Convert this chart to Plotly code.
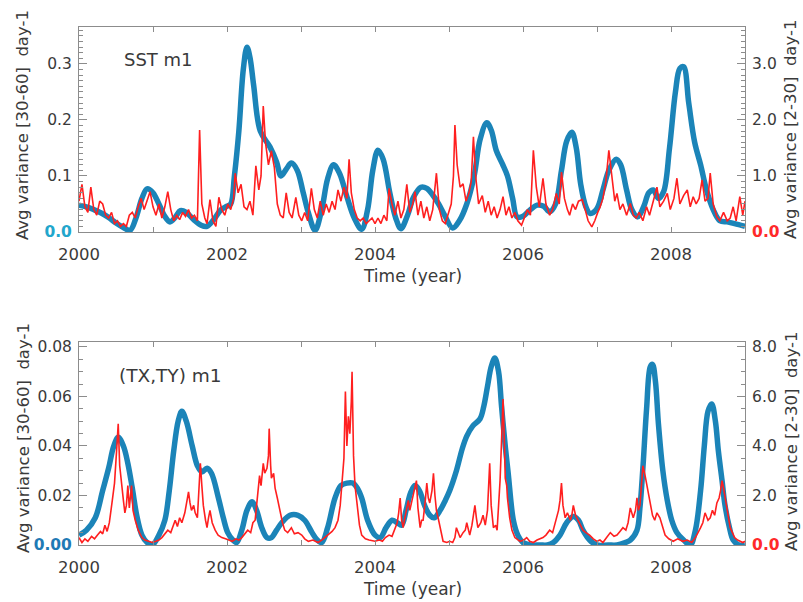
import plotly.graph_objects as go

# ---------------- Top panel: SST m1 ----------------
sst_blue_t = [2000.00, 2000.10, 2000.20, 2000.30, 2000.40, 2000.50, 2000.60, 2000.69, 2000.77, 2000.85,
              2000.92, 2001.00, 2001.08, 2001.16, 2001.23, 2001.30, 2001.37, 2001.45, 2001.55, 2001.65,
              2001.73, 2001.82, 2001.92, 2002.00, 2002.05, 2002.10, 2002.16, 2002.22, 2002.27, 2002.31,
              2002.36, 2002.45, 2002.58, 2002.67, 2002.73, 2002.80, 2002.87, 2002.95, 2003.03, 2003.10,
              2003.19, 2003.28, 2003.36, 2003.44, 2003.52, 2003.62, 2003.72, 2003.82, 2003.90, 2003.97,
              2004.04, 2004.11, 2004.20, 2004.28, 2004.35, 2004.44, 2004.52, 2004.62, 2004.70, 2004.78,
              2004.86, 2004.94, 2005.05, 2005.14, 2005.24, 2005.34, 2005.42, 2005.51, 2005.57, 2005.64,
              2005.72, 2005.79, 2005.86, 2005.92, 2006.00, 2006.10, 2006.19, 2006.28, 2006.36, 2006.44,
              2006.52, 2006.59, 2006.66, 2006.72, 2006.78, 2006.85, 2006.91, 2007.00, 2007.08, 2007.16,
              2007.26, 2007.32, 2007.40, 2007.47, 2007.55, 2007.63, 2007.70, 2007.76, 2007.83, 2007.90,
              2007.98, 2008.06, 2008.12, 2008.17, 2008.24, 2008.32, 2008.40, 2008.48, 2008.57, 2008.66,
              2008.76, 2008.86, 2009.00]
sst_blue_v = [0.048, 0.045, 0.040, 0.034, 0.026, 0.016, 0.008, 0.003, 0.025, 0.060,
              0.077, 0.070, 0.050, 0.028, 0.018, 0.026, 0.038, 0.035, 0.022, 0.012,
              0.010, 0.022, 0.040, 0.046, 0.050, 0.100, 0.180, 0.290, 0.330, 0.312,
              0.262, 0.180, 0.152, 0.125, 0.100, 0.112, 0.123, 0.110, 0.070, 0.034,
              0.003, 0.040, 0.095, 0.120, 0.105, 0.063, 0.025, 0.005, 0.040, 0.110,
              0.146, 0.130, 0.070, 0.025, 0.006, 0.030, 0.062, 0.080, 0.078, 0.066,
              0.050, 0.030, 0.007, 0.020, 0.050, 0.100, 0.165, 0.195, 0.182, 0.145,
              0.122, 0.100, 0.060, 0.027, 0.028, 0.040, 0.048, 0.046, 0.036, 0.050,
              0.110, 0.162, 0.178, 0.150, 0.085, 0.045, 0.033, 0.042, 0.075, 0.110,
              0.130, 0.120, 0.075, 0.040, 0.027, 0.045, 0.070, 0.075, 0.060, 0.072,
              0.150, 0.250, 0.292, 0.295, 0.230, 0.160, 0.120, 0.075, 0.040, 0.020,
              0.018, 0.015, 0.010]

sst_red_t = [2000.00, 2000.04, 2000.08, 2000.12, 2000.16, 2000.20, 2000.24, 2000.28, 2000.32, 2000.36,
             2000.40, 2000.44, 2000.48, 2000.52, 2000.56, 2000.60, 2000.64, 2000.68, 2000.72, 2000.76,
             2000.80, 2000.84, 2000.88, 2000.92, 2000.96, 2001.00, 2001.04, 2001.08, 2001.12, 2001.16,
             2001.20, 2001.24, 2001.28, 2001.32, 2001.36, 2001.40, 2001.44, 2001.48, 2001.52, 2001.56,
             2001.60, 2001.63, 2001.66, 2001.70, 2001.73, 2001.77, 2001.81, 2001.85, 2001.89, 2001.93,
             2001.97, 2002.01, 2002.05, 2002.09, 2002.11, 2002.15, 2002.19, 2002.23, 2002.27, 2002.31,
             2002.35, 2002.39, 2002.43, 2002.46, 2002.49, 2002.52, 2002.56, 2002.60, 2002.64, 2002.68,
             2002.72, 2002.76, 2002.80, 2002.84, 2002.88, 2002.93, 2002.97, 2003.01, 2003.05, 2003.09,
             2003.14, 2003.18, 2003.22, 2003.26, 2003.30, 2003.34, 2003.38, 2003.42, 2003.46, 2003.50,
             2003.54, 2003.58, 2003.62, 2003.65, 2003.68, 2003.72, 2003.76, 2003.80, 2003.84, 2003.88,
             2003.92, 2003.96, 2004.00, 2004.04, 2004.08, 2004.12, 2004.16, 2004.19, 2004.23, 2004.27,
             2004.31, 2004.35, 2004.39, 2004.43, 2004.47, 2004.51, 2004.54, 2004.58, 2004.62, 2004.66,
             2004.70, 2004.74, 2004.78, 2004.83, 2004.87, 2004.91, 2004.95, 2004.99, 2005.03, 2005.06,
             2005.08, 2005.11, 2005.15, 2005.19, 2005.23, 2005.27, 2005.30, 2005.33, 2005.36, 2005.40,
             2005.45, 2005.49, 2005.53, 2005.57, 2005.61, 2005.65, 2005.69, 2005.73, 2005.77, 2005.81,
             2005.85, 2005.89, 2005.93, 2005.98, 2006.02, 2006.06, 2006.10, 2006.14, 2006.18, 2006.22,
             2006.27, 2006.31, 2006.36, 2006.40, 2006.45, 2006.49, 2006.52, 2006.56, 2006.60, 2006.63,
             2006.67, 2006.71, 2006.75, 2006.80, 2006.84, 2006.88, 2006.93, 2006.97, 2007.01, 2007.04,
             2007.08, 2007.12, 2007.16, 2007.20, 2007.24, 2007.27, 2007.31, 2007.35, 2007.40, 2007.45,
             2007.49, 2007.53, 2007.57, 2007.62, 2007.67, 2007.71, 2007.76, 2007.81, 2007.85, 2007.90,
             2007.95, 2007.99, 2008.04, 2008.08, 2008.12, 2008.17, 2008.22, 2008.26, 2008.30, 2008.34,
             2008.38, 2008.42, 2008.46, 2008.50, 2008.53, 2008.57, 2008.62, 2008.66, 2008.71, 2008.76,
             2008.80, 2008.84, 2008.88, 2008.93, 2008.97, 2009.00]
sst_red_v = [0.55, 0.85, 0.45, 0.35, 0.80, 0.40, 0.30, 0.55, 0.50, 0.30,
             0.25, 0.35, 0.15, 0.20, 0.10, 0.15, 0.10, 0.30, 0.35, 0.25,
             0.45, 0.60, 0.40, 0.55, 0.72, 0.45, 0.30, 0.50, 0.25, 0.45,
             0.72, 0.40, 0.20, 0.30, 0.22, 0.35, 0.28, 0.40, 0.25, 0.30,
             0.20, 1.82, 0.50, 0.25, 0.15, 0.58, 0.20, 0.10, 0.62, 0.40,
             0.30, 0.50, 0.40, 0.60, 1.05, 0.70, 0.85, 0.45, 0.40, 0.55,
             0.30, 1.18, 0.75, 1.00, 2.25, 1.60, 1.20, 1.45, 1.15, 0.50,
             0.30, 0.25, 0.70, 0.35, 0.25, 0.62, 0.30, 0.20, 0.35, 0.20,
             0.78, 0.40, 0.25, 0.55, 0.30, 0.50, 0.35, 0.55, 0.40, 0.75,
             0.55, 0.80, 0.60, 1.30, 0.70, 0.40, 0.25, 0.20, 0.25, 0.15,
             0.20, 0.25, 0.15, 0.25, 0.15, 0.30, 0.20, 0.78, 0.50, 0.30,
             0.55, 0.25, 0.40, 0.85, 0.35, 0.50, 0.72, 0.30, 0.55, 0.25,
             0.45, 0.20, 0.40, 1.05, 0.40, 0.20, 0.15, 0.35, 0.50, 1.00,
             1.91, 1.20, 0.80, 0.86, 0.55, 0.70, 0.90, 1.70, 1.00, 0.50,
             0.65, 0.35, 0.55, 0.30, 0.45, 0.25, 0.40, 0.63, 0.30, 0.45,
             0.25, 0.35, 0.20, 0.12, 0.25, 0.40, 0.30, 1.46, 0.80, 0.45,
             0.96, 0.50, 0.30, 0.40, 0.69, 0.50, 1.07, 0.60, 0.40, 0.30,
             0.50, 0.40, 0.55, 0.58, 0.40, 0.20, 0.09, 0.20, 0.35, 0.44,
             0.60, 0.90, 1.46, 1.00, 0.55, 0.69, 0.40, 0.50, 0.30, 0.51,
             0.30, 0.25, 0.35, 0.20, 0.45, 0.30, 0.55, 0.80, 0.45, 0.55,
             0.69, 0.40, 0.60, 0.96, 0.50, 0.65, 0.75, 0.45, 0.63, 0.50,
             0.60, 0.93, 0.55, 0.60, 1.05, 0.50, 0.27, 0.20, 0.35, 0.20,
             0.25, 0.45, 0.20, 0.63, 0.30, 0.55]

# ---------------- Bottom panel: (TX,TY) m1 ----------------
tau_blue_t = [2000.00, 2000.10, 2000.22, 2000.32, 2000.40, 2000.47, 2000.53, 2000.60, 2000.66, 2000.72,
              2000.78, 2000.85, 2000.92, 2000.99, 2001.08, 2001.16, 2001.22, 2001.28, 2001.34, 2001.39,
              2001.45, 2001.53, 2001.60, 2001.66, 2001.73, 2001.79, 2001.88, 2001.95, 2002.01, 2002.08,
              2002.13, 2002.20, 2002.27, 2002.34, 2002.40, 2002.47, 2002.54, 2002.60, 2002.67, 2002.74,
              2002.85, 2002.96, 2003.05, 2003.15, 2003.22, 2003.28, 2003.36, 2003.46, 2003.54, 2003.62,
              2003.70, 2003.76, 2003.82, 2003.90, 2004.00, 2004.07, 2004.15, 2004.23, 2004.30, 2004.36,
              2004.42, 2004.48, 2004.54, 2004.60, 2004.67, 2004.74, 2004.80, 2004.88, 2004.95, 2005.01,
              2005.10, 2005.18, 2005.24, 2005.32, 2005.42, 2005.47, 2005.52, 2005.57, 2005.62, 2005.67,
              2005.71, 2005.76, 2005.80, 2005.87, 2005.93, 2006.00, 2006.10, 2006.23, 2006.33, 2006.41,
              2006.50, 2006.59, 2006.68, 2006.75, 2006.81, 2006.90, 2007.00, 2007.15, 2007.27, 2007.38,
              2007.45, 2007.54, 2007.58, 2007.62, 2007.67, 2007.72, 2007.75, 2007.79, 2007.83, 2007.89,
              2007.95, 2008.01, 2008.08, 2008.17, 2008.26, 2008.33, 2008.40, 2008.45, 2008.50, 2008.55,
              2008.60, 2008.64, 2008.69, 2008.73, 2008.79, 2008.84, 2008.92, 2009.00]
tau_blue_v = [0.004, 0.006, 0.011, 0.022, 0.031, 0.040, 0.0435, 0.040, 0.033, 0.023,
              0.012, 0.004, 0.001, 0.000, 0.004, 0.010, 0.022, 0.038, 0.050, 0.054,
              0.050, 0.040, 0.032, 0.0295, 0.031, 0.029, 0.0195, 0.011, 0.005, 0.002,
              0.001, 0.006, 0.014, 0.0175, 0.014, 0.007, 0.003, 0.003, 0.006, 0.009,
              0.012, 0.012, 0.010, 0.005, 0.002, 0.001, 0.007, 0.019, 0.024, 0.025,
              0.025, 0.023, 0.019, 0.010, 0.004, 0.003, 0.007, 0.010, 0.009, 0.008,
              0.014, 0.021, 0.024, 0.022, 0.016, 0.012, 0.011, 0.014, 0.018, 0.022,
              0.030, 0.039, 0.044, 0.048, 0.051, 0.056, 0.064, 0.072, 0.0755, 0.070,
              0.056, 0.040, 0.029, 0.010, 0.004, 0.001, 0.000, 0.000, 0.000, 0.001,
              0.004, 0.009, 0.0115, 0.010, 0.006, 0.002, 0.000, 0.000, 0.000, 0.001,
              0.002, 0.006, 0.015, 0.031, 0.055, 0.072, 0.073, 0.066, 0.049, 0.030,
              0.018, 0.010, 0.005, 0.002, 0.000, 0.006, 0.022, 0.040, 0.054, 0.057,
              0.050, 0.038, 0.026, 0.016, 0.007, 0.002, 0.000, 0.000]

tau_red_t = [2000.00, 2000.04, 2000.08, 2000.12, 2000.17, 2000.21, 2000.25, 2000.29, 2000.32, 2000.35,
             2000.38, 2000.41, 2000.45, 2000.48, 2000.51, 2000.53, 2000.55, 2000.58, 2000.60, 2000.62,
             2000.64, 2000.66, 2000.68, 2000.71, 2000.73, 2000.76, 2000.80, 2000.85, 2000.89, 2000.94,
             2000.99, 2001.04, 2001.08, 2001.12, 2001.16, 2001.20, 2001.24, 2001.27, 2001.30, 2001.33,
             2001.36, 2001.39, 2001.43, 2001.46, 2001.48, 2001.50, 2001.52, 2001.55, 2001.57, 2001.60,
             2001.62, 2001.64, 2001.66, 2001.68, 2001.71, 2001.73, 2001.75, 2001.77, 2001.80, 2001.84,
             2001.88, 2001.93, 2001.98, 2002.02, 2002.07, 2002.12, 2002.16, 2002.20, 2002.24, 2002.28,
             2002.32, 2002.35, 2002.38, 2002.41, 2002.44, 2002.46, 2002.49, 2002.51, 2002.54, 2002.56,
             2002.57, 2002.59, 2002.60, 2002.63, 2002.65, 2002.68, 2002.72, 2002.75, 2002.78, 2002.82,
             2002.87, 2002.91, 2002.96, 2003.01, 2003.05, 2003.10, 2003.16, 2003.23, 2003.28, 2003.32,
             2003.37, 2003.42, 2003.46, 2003.50, 2003.53, 2003.55, 2003.58, 2003.60, 2003.62, 2003.64,
             2003.66, 2003.68, 2003.69, 2003.71, 2003.73, 2003.76, 2003.79, 2003.82, 2003.87, 2003.92,
             2004.00, 2004.06, 2004.10, 2004.14, 2004.19, 2004.23, 2004.27, 2004.30, 2004.32, 2004.34,
             2004.36, 2004.38, 2004.41, 2004.45, 2004.47, 2004.50, 2004.53, 2004.56, 2004.58, 2004.61,
             2004.63, 2004.65, 2004.68, 2004.70, 2004.72, 2004.74, 2004.77, 2004.79, 2004.81, 2004.83,
             2004.86, 2004.88, 2004.92, 2004.97, 2005.01, 2005.05, 2005.08, 2005.10, 2005.13, 2005.15,
             2005.19, 2005.22, 2005.24, 2005.28, 2005.31, 2005.33, 2005.35, 2005.37, 2005.39, 2005.43,
             2005.46, 2005.49, 2005.52, 2005.55, 2005.57, 2005.60, 2005.63, 2005.65, 2005.67, 2005.69,
             2005.71, 2005.73, 2005.75, 2005.76, 2005.78, 2005.79, 2005.82, 2005.85, 2005.89, 2005.96,
             2006.01, 2006.05, 2006.09, 2006.14, 2006.19, 2006.23, 2006.27, 2006.31, 2006.36, 2006.40,
             2006.45, 2006.48, 2006.50, 2006.52, 2006.54, 2006.57, 2006.60, 2006.64, 2006.66, 2006.68,
             2006.71, 2006.74, 2006.77, 2006.81, 2006.85, 2006.90, 2006.95, 2007.00, 2007.04, 2007.08,
             2007.13, 2007.18, 2007.23, 2007.27, 2007.31, 2007.35, 2007.39, 2007.42, 2007.45, 2007.49,
             2007.52, 2007.54, 2007.56, 2007.58, 2007.60, 2007.62, 2007.65, 2007.67, 2007.70, 2007.72,
             2007.75, 2007.78, 2007.81, 2007.85, 2007.88, 2007.92, 2007.97, 2008.03, 2008.09, 2008.16,
             2008.22, 2008.28, 2008.33, 2008.37, 2008.40, 2008.43, 2008.46, 2008.50, 2008.53, 2008.56,
             2008.59, 2008.62, 2008.65, 2008.67, 2008.69, 2008.71, 2008.73, 2008.76, 2008.80, 2008.83,
             2008.86, 2008.90, 2008.94, 2008.97, 2009.00]
tau_red_v = [0.30, 0.10, 0.25, 0.15, 0.35, 0.25, 0.40, 0.55, 0.45, 0.80,
             0.55, 0.90, 1.80, 2.50, 3.90, 4.90, 3.20, 2.50, 1.80, 1.30,
             1.60, 2.40, 1.50, 2.40, 1.40, 1.00, 0.60, 0.30, 0.20, 0.15,
             0.10, 0.15, 0.20, 0.30, 0.45, 0.60, 0.50, 0.80, 1.00, 0.75,
             1.10, 0.90, 1.30, 1.80, 2.15, 1.70, 1.40, 1.60, 1.30, 1.10,
             2.00, 3.30, 2.40, 1.60, 1.00, 0.70, 1.10, 1.40, 0.90, 0.60,
             0.40, 0.30, 0.25, 0.20, 0.15, 0.25, 0.20, 0.30, 0.45, 0.60,
             0.50, 0.90, 1.00, 1.80, 2.80, 2.40, 3.30, 2.90, 3.10, 3.60,
             4.70, 3.20, 2.70, 2.90, 2.30, 1.90, 1.30, 0.90, 0.60, 0.50,
             0.70, 0.45, 0.50, 0.40, 0.25, 0.15, 0.20, 0.10, 0.20, 0.30,
             0.40, 0.55, 0.70, 1.00, 1.60, 2.30, 3.50, 6.20, 4.00, 5.20,
             4.50, 5.80, 7.00, 3.60, 2.40, 1.60, 0.80, 0.40, 0.25, 0.20,
             0.15, 0.20, 0.15, 0.30, 0.40, 0.35, 0.70, 0.90, 1.30, 1.90,
             1.00, 0.70, 1.20, 1.80, 1.40, 1.80, 2.20, 2.60, 1.50, 0.70,
             1.00, 1.00, 1.80, 2.50, 1.90, 1.70, 2.20, 2.90, 2.00, 1.40,
             1.00, 0.70, 0.15, 0.10, 0.15, 0.10, 0.30, 0.70, 0.40, 0.30,
             0.50, 0.60, 0.90, 0.40, 0.80, 1.20, 1.60, 1.10, 0.70, 0.90,
             1.20, 0.80, 1.40, 3.30, 1.60, 0.70, 0.80, 0.60, 1.40, 2.60,
             4.20, 5.90, 4.00, 2.70, 2.40, 1.90, 1.10, 0.60, 0.30, 0.15,
             0.20, 0.30, 0.15, 0.10, 0.20, 0.25, 0.30, 0.40, 0.60, 0.50,
             1.00, 1.40, 1.80, 2.50, 1.60, 1.10, 1.30, 1.00, 1.20, 1.60,
             1.20, 1.00, 0.80, 0.60, 0.50, 0.40, 0.25, 0.15, 0.20, 0.10,
             0.30, 0.50, 0.35, 0.40, 0.55, 0.70, 0.60, 0.90, 1.50, 1.10,
             1.40, 1.90, 1.40, 1.60, 2.40, 3.20, 2.80, 2.50, 1.90, 1.60,
             1.20, 1.00, 1.30, 1.10, 0.80, 0.40, 0.25, 0.15, 0.25, 0.15,
             0.20, 0.10, 0.30, 0.50, 0.70, 0.90, 1.30, 1.00, 1.10, 1.40,
             1.20, 1.70, 1.90, 2.20, 2.60, 2.30, 1.90, 1.30, 0.70, 0.50,
             0.30, 0.20, 0.15, 0.10, 0.15]

years = list(range(2000, 2010))
year_labels = [str(y) if y % 2 == 0 else "" for y in years]

top_left_ticks = [0.0, 0.1, 0.2, 0.3]
top_left_labels = ["<b><span style='color:#22a6cc'>0.0</span></b>", "0.1", "0.2", "0.3"]
top_right_ticks = [0.0, 1.0, 2.0, 3.0]
top_right_labels = ["<b><span style='color:#ff2a2a'>0.0</span></b>", "1.0", "2.0", "3.0"]
bot_left_ticks = [0.0, 0.02, 0.04, 0.06, 0.08]
bot_left_labels = ["<b><span style='color:#1f7ab5'>0.00</span></b>", "0.02", "0.04", "0.06", "0.08"]
bot_right_ticks = [0.0, 2.0, 4.0, 6.0, 8.0]
bot_right_labels = ["<b><span style='color:#ff2a2a'>0.0</span></b>", "2.0", "4.0", "6.0", "8.0"]

BLUE = "#1b84b8"
RED = "#ff1f1f"
AX = "#8c8c8c"
TXT = "#3a3a3a"
FONT = "DejaVu Sans"

fig = go.Figure()
fig.add_trace(go.Scatter(x=sst_blue_t, y=sst_blue_v, mode="lines", xaxis="x", yaxis="y",
                         line=dict(color=BLUE, width=5.5, shape="spline", smoothing=1.0)))
fig.add_trace(go.Scatter(x=sst_red_t, y=sst_red_v, mode="lines", xaxis="x", yaxis="y2",
                         line=dict(color=RED, width=1.6)))
fig.add_trace(go.Scatter(x=tau_blue_t, y=tau_blue_v, mode="lines", xaxis="x2", yaxis="y3",
                         line=dict(color=BLUE, width=5.5, shape="spline", smoothing=1.0)))
fig.add_trace(go.Scatter(x=tau_red_t, y=tau_red_v, mode="lines", xaxis="x2", yaxis="y4",
                         line=dict(color=RED, width=1.6)))

xdom = [79 / 803, 745 / 803]
top_dom = [1 - 232 / 602, 1 - 27 / 602]
bot_dom = [1 - 545 / 602, 1 - 342 / 602]

def xax(anchor):
    return dict(domain=xdom, range=[2000, 2009], anchor=anchor, tickmode="array",
                tickvals=years, ticktext=year_labels, ticks="inside", ticklen=5,
                tickcolor=AX, showline=True, linecolor=AX, linewidth=1, mirror="ticks",
                showgrid=False, zeroline=False, automargin=False, ticklabelstandoff=7,
                tickfont=dict(size=16.5, color=TXT, family=FONT))

def yax(dom, rng, tv, tt, minor_dt, side="left", overlay=None, anchor=None):
    d = dict(domain=dom, range=rng, tickmode="array", tickvals=tv, ticktext=tt,
             ticks="inside", ticklen=8, tickcolor=AX, showline=True, linecolor=AX,
             linewidth=1, showgrid=False, zeroline=False, side=side, automargin=False,
             ticklabelstandoff=3,
             minor=dict(ticks="inside", ticklen=4, dtick=minor_dt, tick0=0, tickcolor=AX),
             tickfont=dict(size=15.5, color=TXT, family=FONT))
    if overlay:
        d["overlaying"] = overlay
    if anchor:
        d["anchor"] = anchor
    return d

fig.update_layout(
    width=803, height=602,
    margin=dict(l=0, r=0, t=0, b=0),
    paper_bgcolor="white", plot_bgcolor="white",
    showlegend=False,
    font=dict(family=FONT, color=TXT),
    xaxis=xax("y"),
    xaxis2=xax("y3"),
    yaxis=yax(top_dom, [0, 0.366], top_left_ticks, top_left_labels, 0.01, anchor="x"),
    yaxis2=yax(top_dom, [0, 3.66], top_right_ticks, top_right_labels, 0.1, side="right", overlay="y", anchor="x"),
    yaxis3=yax(bot_dom, [0, 0.082], bot_left_ticks, bot_left_labels, 0.005, anchor="x2"),
    yaxis4=yax(bot_dom, [0, 8.2], bot_right_ticks, bot_right_labels, 0.5, side="right", overlay="y3", anchor="x2"),
)

ann = [
    dict(text="SST m1", x=158 / 803, y=1 - 59 / 602, size=18, angle=0),
    dict(text="(TX,TY) m1", x=170 / 803, y=1 - 375 / 602, size=18.5, angle=0),
    dict(text="Time (year)", x=412 / 803, y=1 - 276 / 602, size=17, angle=0),
    dict(text="Time (year)", x=412 / 803, y=1 - 589 / 602, size=17, angle=0),
    dict(text="Avg variance [30-60]\u00a0\u00a0day-1", x=23 / 803, y=1 - 125 / 602, size=16.5, angle=-90),
    dict(text="Avg variance [2-30]\u00a0\u00a0day-1", x=791 / 803, y=1 - 130 / 602, size=16.5, angle=-90),
    dict(text="Avg variance [30-60]\u00a0\u00a0day-1", x=23 / 803, y=1 - 438 / 602, size=16.5, angle=-90),
    dict(text="Avg variance [2-30]\u00a0\u00a0day-1", x=791 / 803, y=1 - 442 / 602, size=16.5, angle=-90),
]
for a in ann:
    fig.add_annotation(text=a["text"], x=a["x"], y=a["y"], xref="paper", yref="paper",
                       showarrow=False, textangle=a["angle"], xanchor="center", yanchor="middle",
                       font=dict(size=a["size"], color=TXT, family=FONT))

fig.write_html("out.html", config={"displayModeBar": False},
               post_script="document.body.style.margin='0px';")
